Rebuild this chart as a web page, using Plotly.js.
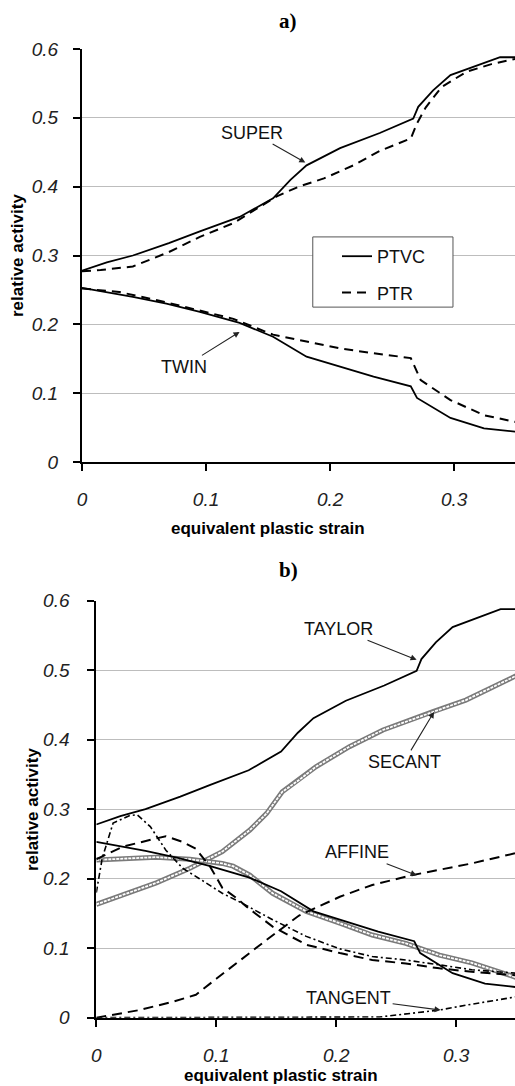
<!DOCTYPE html>
<html>
<head>
<meta charset="utf-8">
<script src="https://cdn.plot.ly/plotly-3.0.1.min.js"></script>
<style>html,body{margin:0;padding:0;background:#fff;}#chart{width:515px;height:1086px;}</style>
</head>
<body>
<div id="chart"></div>
<script>
// ---------- Panel a) data ----------
const superPtvcX = [0, 0.02, 0.041, 0.07, 0.095, 0.127, 0.154, 0.168, 0.181, 0.208, 0.24, 0.267, 0.271, 0.283, 0.297, 0.315, 0.337, 0.35];
const superPtvcY = [0.278, 0.29, 0.30, 0.318, 0.335, 0.356, 0.383, 0.41, 0.431, 0.456, 0.478, 0.499, 0.516, 0.54, 0.562, 0.574, 0.588, 0.588];
const superPtrX = [0, 0.015, 0.041, 0.07, 0.095, 0.122, 0.157, 0.176, 0.195, 0.22, 0.24, 0.265, 0.27, 0.277, 0.29, 0.31, 0.33, 0.35];
const superPtrY = [0.277, 0.279, 0.284, 0.305, 0.327, 0.347, 0.386, 0.401, 0.412, 0.432, 0.452, 0.47, 0.492, 0.515, 0.545, 0.567, 0.578, 0.586];
const twinPtvcX = [0, 0.041, 0.068, 0.095, 0.127, 0.154, 0.181, 0.208, 0.235, 0.265, 0.27, 0.297, 0.324, 0.35];
const twinPtvcY = [0.253, 0.240, 0.230, 0.218, 0.202, 0.182, 0.153, 0.139, 0.124, 0.11, 0.093, 0.064, 0.049, 0.044];
const twinPtrX = [0, 0.03, 0.068, 0.1, 0.122, 0.14, 0.154, 0.181, 0.208, 0.235, 0.265, 0.273, 0.297, 0.324, 0.35];
const twinPtrY = [0.252, 0.247, 0.232, 0.218, 0.208, 0.195, 0.185, 0.175, 0.165, 0.158, 0.151, 0.119, 0.09, 0.068, 0.058];

// ---------- Panel b) data ----------
const taylorSuperX = superPtvcX, taylorSuperY = superPtvcY;
const taylorTwinX = twinPtvcX, taylorTwinY = twinPtvcY;
const secantSuperX = [0, 0.05, 0.078, 0.105, 0.128, 0.142, 0.155, 0.169, 0.183, 0.211, 0.239, 0.28, 0.308, 0.35];
const secantSuperY = [0.163, 0.194, 0.215, 0.239, 0.27, 0.294, 0.325, 0.342, 0.361, 0.39, 0.414, 0.44, 0.457, 0.492];
const secantTwinX = [0, 0.05, 0.078, 0.105, 0.114, 0.128, 0.147, 0.175, 0.203, 0.23, 0.258, 0.286, 0.313, 0.35];
const secantTwinY = [0.227, 0.231, 0.228, 0.222, 0.218, 0.205, 0.179, 0.153, 0.136, 0.119, 0.107, 0.09, 0.079, 0.058];
const affineSuperX = [0, 0.036, 0.064, 0.083, 0.1, 0.114, 0.125, 0.142, 0.169, 0.203, 0.23, 0.263, 0.313, 0.35];
const affineSuperY = [0, 0.011, 0.023, 0.033, 0.056, 0.075, 0.09, 0.112, 0.147, 0.174, 0.191, 0.205, 0.222, 0.237];
const affineTwinX = [0, 0.022, 0.05, 0.058, 0.072, 0.083, 0.095, 0.105, 0.117, 0.125, 0.147, 0.175, 0.203, 0.23, 0.258, 0.286, 0.313, 0.35];
const affineTwinY = [0.228, 0.246, 0.258, 0.261, 0.253, 0.243, 0.217, 0.187, 0.172, 0.16, 0.131, 0.105, 0.093, 0.083, 0.078, 0.071, 0.066, 0.061];
const tangentTwinX = [0, 0.005, 0.014, 0.028, 0.034, 0.045, 0.058, 0.072, 0.086, 0.097, 0.105, 0.119, 0.147, 0.175, 0.203, 0.23, 0.258, 0.286, 0.313, 0.35];
const tangentTwinY = [0.18, 0.23, 0.28, 0.291, 0.292, 0.275, 0.241, 0.215, 0.2, 0.188, 0.179, 0.167, 0.141, 0.117, 0.099, 0.088, 0.083, 0.076, 0.069, 0.064];
const tangentSuperX = [0, 0.1, 0.2, 0.236, 0.266, 0.286, 0.308, 0.35];
const tangentSuperY = [0, 0, 0, 0.001, 0.007, 0.011, 0.018, 0.03];

// ---------- labels ----------
const legendNames = ["PTVC", "PTR"];
const panelTitles = ["a)", "b)"];
const xTitle = "equivalent plastic strain";
const yTitle = "relative activity";

const SANS = "Arial, 'Liberation Sans', sans-serif";
const SERIF = "'Times New Roman', 'Liberation Serif', serif";

function line(x, y, xa, ya, opts) {
  return Object.assign({x: x, y: y, xaxis: xa, yaxis: ya, type: 'scatter', mode: 'lines',
    showlegend: false, hoverinfo: 'skip'}, opts);
}
const solid = {color: '#000', width: 1.8};
const dashA = {color: '#000', width: 2, dash: '9px,6px'};

const traces = [
  line(superPtvcX, superPtvcY, 'x', 'y', {line: solid, name: legendNames[0], showlegend: true, legendgroup: 'g1'}),
  line(twinPtvcX, twinPtvcY, 'x', 'y', {line: solid, legendgroup: 'g1'}),
  line(superPtrX, superPtrY, 'x', 'y', {line: dashA, name: legendNames[1], showlegend: true, legendgroup: 'g2'}),
  line(twinPtrX, twinPtrY, 'x', 'y', {line: dashA, legendgroup: 'g2'}),
  // panel b
  line(secantSuperX, secantSuperY, 'x2', 'y2', {line: {color: '#7a7a7a', width: 5}}),
  line(secantSuperX, secantSuperY, 'x2', 'y2', {line: {color: '#ffffff', width: 1.8, dash: '3px,1px'}}),
  line(secantTwinX, secantTwinY, 'x2', 'y2', {line: {color: '#7a7a7a', width: 5}}),
  line(secantTwinX, secantTwinY, 'x2', 'y2', {line: {color: '#ffffff', width: 1.8, dash: '3px,1px'}}),
  line(taylorSuperX, taylorSuperY, 'x2', 'y2', {line: solid}),
  line(taylorTwinX, taylorTwinY, 'x2', 'y2', {line: solid}),
  line(affineSuperX, affineSuperY, 'x2', 'y2', {line: {color: '#000', width: 2, dash: '10px,6px'}}),
  line(affineTwinX, affineTwinY, 'x2', 'y2', {line: {color: '#000', width: 2, dash: '10px,6px'}}),
  line(tangentSuperX, tangentSuperY, 'x2', 'y2', {line: {color: '#000', width: 1.6, dash: '6px,3px,2px,3px'}}),
  line(tangentTwinX, tangentTwinY, 'x2', 'y2', {line: {color: '#000', width: 1.6, dash: '6px,3px,2px,3px'}})
];

const H = 1086, W = 515;
const tickFont = {family: SANS, size: 19, style: 'italic', color: '#222'};
function xAxis(dom, anchor) {
  return {domain: dom, anchor: anchor, range: [0, 0.349], dtick: 0.1, tick0: 0,
    showline: true, linecolor: '#000', linewidth: 2, ticks: 'outside', ticklen: 7, tickwidth: 2,
    tickcolor: '#000', showgrid: false, zeroline: false, tickfont: tickFont, ticklabelstandoff: 12,
    fixedrange: true};
}
function yAxis(dom, anchor, standoff) {
  return {domain: dom, anchor: anchor, range: [0, 0.6], dtick: 0.1, tick0: 0,
    showline: true, linecolor: '#000', linewidth: 2, ticks: 'outside', ticklen: 7, tickwidth: 2,
    tickcolor: '#000', showgrid: true, gridcolor: '#bdbdbd', gridwidth: 1, zeroline: false,
    tickfont: tickFont, ticklabelstandoff: standoff, fixedrange: true};
}

function paperText(text, px, py, font, extra) {
  return Object.assign({text: text, xref: 'paper', yref: 'paper', x: px / W, y: 1 - py / H,
    xanchor: 'center', yanchor: 'middle', showarrow: false, font: font}, extra || {});
}
function arrowLabel(text, xr, yr, x, y, ax, ay) {
  return {text: text, xref: xr, yref: yr, x: x, y: y, ax: ax, ay: ay, showarrow: true,
    arrowhead: 2, arrowsize: 1.1, arrowwidth: 1.1, arrowcolor: '#222', standoff: 0,
    font: {family: SANS, size: 18, color: '#111'}};
}
const titleFont = {family: SERIF, size: 21, color: '#000', weight: 'bold'};
const axTitleFont = {family: SANS, size: 17, color: '#000', weight: 'bold'};

const layout = {
  width: W, height: H, margin: {l: 0, r: 0, t: 0, b: 0},
  paper_bgcolor: '#fff', plot_bgcolor: '#fff',
  xaxis: xAxis([82 / W, 1], 'y'),
  yaxis: yAxis([1 - 462 / H, 1 - 49 / H], 'x', 11),
  xaxis2: xAxis([96.3 / W, 1], 'y2'),
  yaxis2: yAxis([1 - 1017.7 / H, 1 - 600.7 / H], 'x2', 14),
  showlegend: true,
  legend: {x: 337 / W, y: 1 - 238 / H, xanchor: 'left', yanchor: 'top', bgcolor: 'rgba(0,0,0,0)',
    borderwidth: 0, font: {family: SANS, size: 18, color: '#111'}, traceorder: 'grouped',
    tracegroupgap: 10, itemwidth: 30},
  shapes: [{type: 'rect', xref: 'x', yref: 'y', x0: 0.186, x1: 0.299, y0: 0.225, y1: 0.327,
    fillcolor: '#fff', line: {color: '#555', width: 1}, layer: 'between'}],
  annotations: [
    paperText(panelTitles[0], 288, 21, titleFont),
    paperText(panelTitles[1], 288, 570, titleFont),
    paperText(xTitle, 268, 528, axTitleFont),
    paperText(xTitle, 281, 1075, axTitleFont),
    paperText(yTitle, 17, 256, axTitleFont, {textangle: -90}),
    paperText(yTitle, 32, 810, axTitleFont, {textangle: -90}),
    arrowLabel('SUPER', 'x', 'y', 0.18, 0.435, -53, -30),
    arrowLabel('TWIN', 'x', 'y', 0.127, 0.189, -56, 35),
    arrowLabel('TAYLOR', 'x2', 'y2', 0.267, 0.515, -78, -31),
    arrowLabel('SECANT', 'x2', 'y2', 0.2815, 0.44, -30, 50),
    arrowLabel('AFFINE', 'x2', 'y2', 0.267, 0.205, -60, -23),
    arrowLabel('TANGENT', 'x2', 'y2', 0.287, 0.011, -92, -12)
  ]
};

Plotly.newPlot('chart', traces, layout, {staticPlot: true, displayModeBar: false});
</script>
</body>
</html>
